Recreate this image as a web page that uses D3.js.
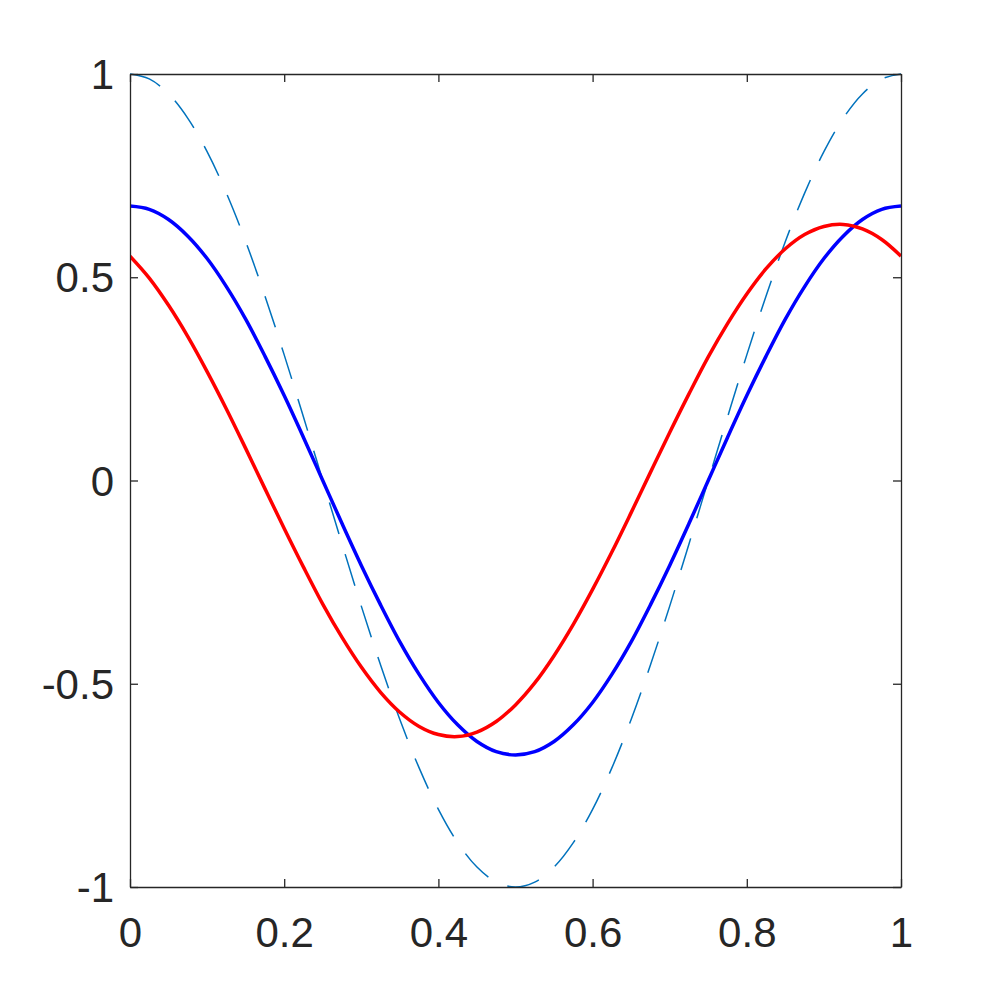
<!DOCTYPE html>
<html>
<head>
<meta charset="utf-8">
<script src="https://cdn.jsdelivr.net/npm/d3@7"></script>
<style>
  html, body { margin: 0; padding: 0; background: #fff; }
  svg { display: block; }
</style>
</head>
<body>
<svg id="chart" width="997" height="997"></svg>
<script>
// x sample positions (step 0.025)
const xs = [0,0.025,0.05,0.075,0.1,0.125,0.15,0.175,0.2,0.225,0.25,0.275,0.3,0.325,0.35,0.375,0.4,0.425,0.45,0.475,0.5,
            0.525,0.55,0.575,0.6,0.625,0.65,0.675,0.7,0.725,0.75,0.775,0.8,0.825,0.85,0.875,0.9,0.925,0.95,0.975,1];
// dashed reference series
const dashedVals = [1,0.988,0.951,0.891,0.809,0.707,0.588,0.454,0.309,0.156,0,-0.156,-0.309,-0.454,-0.588,-0.707,-0.809,-0.891,-0.951,-0.988,-1,
                    -0.988,-0.951,-0.891,-0.809,-0.707,-0.588,-0.454,-0.309,-0.156,0,0.156,0.309,0.454,0.588,0.707,0.809,0.891,0.951,0.988,1];
// blue series
const blueVals = [0.675,0.667,0.642,0.601,0.546,0.477,0.397,0.306,0.209,0.106,0,-0.106,-0.209,-0.306,-0.397,-0.477,-0.546,-0.601,-0.642,-0.667,-0.675,
                  -0.667,-0.642,-0.601,-0.546,-0.477,-0.397,-0.306,-0.209,-0.106,0,0.106,0.209,0.306,0.397,0.477,0.546,0.601,0.642,0.667,0.675];
// red series
const redVals = [0.552,0.498,0.431,0.354,0.268,0.176,0.079,-0.020,-0.118,-0.213,-0.304,-0.386,-0.459,-0.521,-0.570,-0.605,-0.625,-0.630,-0.619,-0.593,-0.552,
                 -0.498,-0.431,-0.354,-0.268,-0.176,-0.079,0.020,0.118,0.213,0.304,0.386,0.459,0.521,0.570,0.605,0.625,0.630,0.619,0.593,0.552];
const xTicks = [0,0.2,0.4,0.6,0.8,1];
const xTickLabels = ["0","0.2","0.4","0.6","0.8","1"];
const yTicks = [-1,-0.5,0,0.5,1];
const yTickLabels = ["-1","-0.5","0","0.5","1"];

const L = 130, R = 901, T = 74, B = 887;
const svg = d3.select("#chart");
const x = d3.scaleLinear().domain([0,1]).range([L,R]);
const y = d3.scaleLinear().domain([-1,1]).range([B,T]);
const axisColor = "#262626";
const tickLen = 8;

svg.append("clipPath").attr("id","clip").append("rect")
  .attr("x", L).attr("y", T - 3).attr("width", R - L).attr("height", B - T + 6);

const line = d3.line().x(d => x(d[0])).y(d => y(d[1])).curve(d3.curveCatmullRom.alpha(0.5));
const g = svg.append("g").attr("clip-path","url(#clip)");

g.append("path").datum(xs.map((v,i)=>[v,dashedVals[i]]))
  .attr("d", line).attr("fill","none").attr("stroke","#0072BD")
  .attr("stroke-width",1.5).attr("stroke-dasharray","33,21");
g.append("path").datum(xs.map((v,i)=>[v,blueVals[i]]))
  .attr("d", line).attr("fill","none").attr("stroke","#0000FF")
  .attr("stroke-width",3.5);
g.append("path").datum(xs.map((v,i)=>[v,redVals[i]]))
  .attr("d", line).attr("fill","none").attr("stroke","#FF0000")
  .attr("stroke-width",3.5);

// axes
const fmtX = (d,i) => xTickLabels[i];
const fmtY = (d,i) => yTickLabels[i];
const axB = svg.append("g").attr("transform",`translate(0,${B})`)
  .call(d3.axisBottom(x).tickValues(xTicks).tickFormat(fmtX).tickSizeInner(-tickLen).tickSizeOuter(0).tickPadding(30));
const axT = svg.append("g").attr("transform",`translate(0,${T})`)
  .call(d3.axisTop(x).tickValues(xTicks).tickFormat("").tickSizeInner(-tickLen).tickSizeOuter(0));
const axL = svg.append("g").attr("transform",`translate(${L},0)`)
  .call(d3.axisLeft(y).tickValues(yTicks).tickFormat(fmtY).tickSizeInner(-tickLen).tickSizeOuter(0).tickPadding(16));
const axR = svg.append("g").attr("transform",`translate(${R},0)`)
  .call(d3.axisRight(y).tickValues(yTicks).tickFormat("").tickSizeInner(-tickLen).tickSizeOuter(0));

[axB, axT, axL, axR].forEach(a => {
  a.select(".domain").attr("stroke", axisColor).attr("stroke-width", 1.3);
  a.selectAll(".tick line").attr("stroke", axisColor).attr("stroke-width", 1.3);
  a.selectAll(".tick text").attr("fill", axisColor)
    .style("font-family", "'Liberation Sans', Arial, Helvetica, sans-serif")
    .style("font-size", "42px");
});
axB.selectAll(".tick text").attr("dy", "0.71em");
axL.selectAll(".tick text").attr("dy", "0.35em");
</script>
</body>
</html>
